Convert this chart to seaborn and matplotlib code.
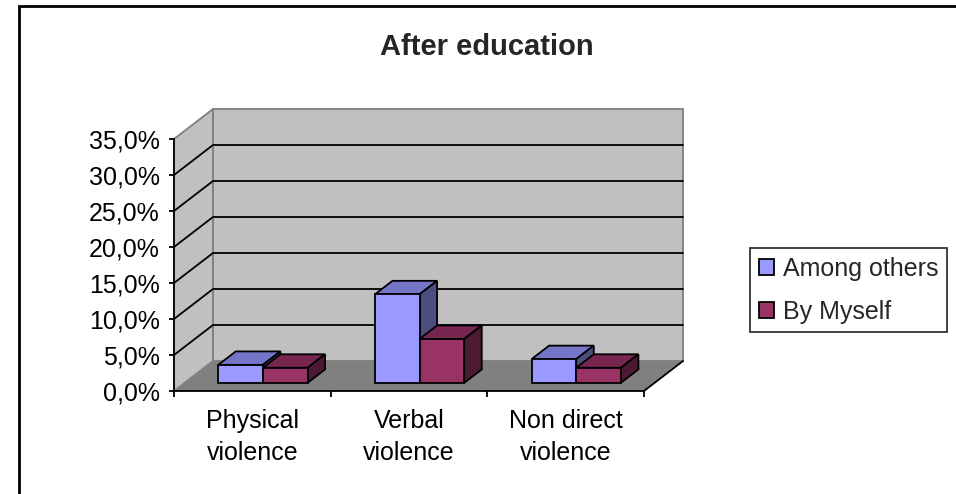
import matplotlib
matplotlib.use('Agg')
import matplotlib.pyplot as plt
from matplotlib.patches import Polygon, Rectangle
import pandas as pd
import seaborn as sns

# values (percent)
categories = ['Physical\nviolence', 'Verbal\nviolence', 'Non direct\nviolence']
among_others = [2.5, 12.3, 3.3]
by_myself = [2.1, 6.1, 2.1]
series_names = ['Among others', 'By Myself']
y_ticks = [0, 5, 10, 15, 20, 25, 30, 35]

df = pd.DataFrame({
    'category': categories * 2,
    'series': [series_names[0]] * 3 + [series_names[1]] * 3,
    'value': among_others + by_myself,
})

front_cols = ['#9999FF', '#993366']
top_cols = ['#7575C8', '#772650']
side_cols = ['#4D4D80', '#4D1A33']

sns.set_style('white')
plt.rcParams['font.family'] = ['Liberation Sans', 'DejaVu Sans']

fig = plt.figure(figsize=(9.56, 4.94), dpi=100)
ax = fig.add_axes([174 / 956, 1 - 391 / 494, 470 / 956, 252 / 494])
ax.set_facecolor('none')

sns.barplot(data=df, x='category', y='value', hue='series', palette=front_cols,
            width=0.57, saturation=1, edgecolor='black', linewidth=1.3, ax=ax)
ax.set_xlim(-0.5, 2.5)
ax.set_ylim(0, 35)

# depth of the 3d box, in data units
bb = ax.get_window_extent()
ddx = 39 / (bb.width / 3)
ddy = 30 / (bb.height / 35)

# walls and floor
ax.add_patch(Polygon([(-0.5, 0), (-0.5 + ddx, ddy), (-0.5 + ddx, 35 + ddy), (-0.5, 35)],
                     fc='#C0C0C0', ec='#808080', lw=1.3, clip_on=False, zorder=0.5))
ax.add_patch(Rectangle((-0.5 + ddx, ddy), 3, 35, fc='#C0C0C0', ec='#808080', lw=1.3,
                       clip_on=False, zorder=0.5))
ax.add_patch(Polygon([(-0.5, 0), (2.5, 0), (2.5 + ddx, ddy), (-0.5 + ddx, ddy)],
                     fc='#808080', ec='none', clip_on=False, zorder=0.6))
ax.plot([2.5, 2.5 + ddx], [0, ddy], color='black', lw=1.3, clip_on=False, zorder=0.7)
for v in y_ticks[1:-1]:
    ax.plot([-0.5, -0.5 + ddx, 2.5 + ddx], [v, v + ddy, v + ddy], color='black', lw=1.3,
            clip_on=False, zorder=1)

# turn the flat bars into boxes
f0, bd = 0.27, 0.45
for i, cont in enumerate(ax.containers):
    for bar in cont:
        x, w, h = bar.get_x(), bar.get_width(), bar.get_height()
        x0, y0 = x + f0 * ddx, f0 * ddy
        bar.set_x(x0)
        bar.set_y(y0)
        bar.set_clip_on(False)
        bar.set_zorder(4 + 2 * i)
        ex, ey = bd * ddx, bd * ddy
        ax.add_patch(Polygon([(x0, y0 + h), (x0 + w, y0 + h), (x0 + w + ex, y0 + h + ey),
                              (x0 + ex, y0 + h + ey)], fc=top_cols[i], ec='black', lw=1.3,
                             clip_on=False, zorder=3 + 2 * i))
        ax.add_patch(Polygon([(x0 + w, y0), (x0 + w + ex, y0 + ey), (x0 + w + ex, y0 + h + ey),
                              (x0 + w, y0 + h)], fc=side_cols[i], ec='black', lw=1.3,
                             clip_on=False, zorder=3 + 2 * i))

# axes
for s in ['top', 'right']:
    ax.spines[s].set_visible(False)
for s in ['left', 'bottom']:
    ax.spines[s].set_color('black')
    ax.spines[s].set_linewidth(1.3)
    ax.spines[s].set_zorder(2)

ax.set_yticks(y_ticks)
ax.set_yticklabels([f'{v:.1f}%'.replace('.', ',') for v in y_ticks])
ax.tick_params(axis='y', length=3.6, width=1.3, direction='out', pad=6.5, labelsize=18,
               colors='black', left=True)
ax.set_xticks([0, 1, 2])
ax.set_xticklabels(categories)
ax.set_xticks([-0.5, 0.5, 1.5, 2.5], minor=True)
ax.tick_params(axis='x', which='major', length=0, pad=13, labelsize=18, colors='black')
ax.tick_params(axis='x', which='minor', length=4.3, width=1.3, direction='out',
               color='black', bottom=True)
for t in ax.get_xticklabels():
    t.set_linespacing(1.4)
ax.set_xlabel('')
ax.set_ylabel('')

leg = ax.legend(loc='upper left', bbox_to_anchor=(750 / 956, 1 - 248 / 494),
                bbox_transform=fig.transFigure, frameon=True, fancybox=False,
                edgecolor='black', fontsize=18, handlelength=0.62, handleheight=0.62,
                handletextpad=0.35, labelspacing=0.75, borderpad=0.35, borderaxespad=0)
leg.get_frame().set_linewidth(1.3)
leg.set_title(None)

fig.text(487 / 956, 1 - 47 / 494, 'After education', ha='center', va='center',
         fontsize=21, fontweight='bold')
fig.add_artist(Rectangle((19 / 956, -0.5), 2, 1.5 - 6 / 494, fill=False, ec='black', lw=2,
                         transform=fig.transFigure))

fig.savefig('out.png', dpi=100)
